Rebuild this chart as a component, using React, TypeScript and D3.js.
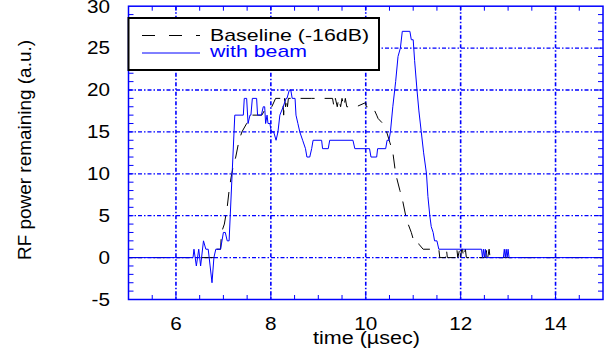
import React from "react";
import * as d3 from "d3";

const W = 604;
const H = 352;

// Baseline (-16dB) trace: time (µs) and value
const baseT = [5, 6.8, 6.81, 6.94, 6.96, 7.02, 7.08, 7.12, 7.16, 7.21, 7.26, 7.33, 7.39, 7.49, 7.59, 7.81, 7.91, 8.02, 8.1,
  8.25, 8.27, 8.29, 8.31, 8.33, 8.35, 8.37, 8.86, 9.14, 9.3, 9.33, 9.36, 9.4, 9.43, 9.47, 9.5, 9.54, 9.57, 9.6, 9.64, 9.66,
  9.8, 10.0, 10.01, 10.15, 10.23, 10.26, 10.36, 10.44, 10.51, 10.57, 10.63, 10.72, 10.77, 10.86, 10.96, 11.01, 11.1, 11.12,
  11.21, 11.54, 11.56, 11.68, 11.7, 11.72, 11.9, 11.92, 11.94, 11.98, 12.0, 12.02, 12.04, 12.06, 12.1, 12.12, 12.53, 12.55,
  12.57, 12.6, 12.62, 15];
const baseV = [0, 0, 1, 1, 3, 4, 6, 8, 9.5, 11, 12, 14, 15, 16, 17, 17, 18, 18, 19,
  19, 17, 19, 18, 19, 18, 19, 19, 19, 19, 18, 19, 18, 19, 18, 19, 18, 19, 18, 18, 18,
  18, 18.5, 18, 18, 17, 16.6, 16, 15, 13.7, 12.6, 10, 8, 7, 4.5, 3, 2, 2, 1.6,
  1, 1, 0, 0, 1, 0, 0, 1, 0, 1, 0, 1, 1, 0, 1, 0, 0, 1,
  0, 1, 0, 0];

// With beam trace: time (µs) and value
const beamT = [5, 6.36, 6.38, 6.43, 6.48, 6.52, 6.58, 6.63, 6.68, 6.72, 6.76, 6.8, 6.84, 6.94, 7.0, 7.04, 7.08, 7.12,
  7.24, 7.42, 7.44, 7.49, 7.52, 7.56, 7.58, 7.61, 7.7, 7.72, 7.8, 7.84, 7.87, 7.89, 7.92, 7.94, 7.98, 8.01, 8.06, 8.11,
  8.15, 8.19, 8.26, 8.32, 8.34, 8.39, 8.42, 8.45, 8.51, 8.53, 8.57, 8.61, 8.67, 8.73, 8.76, 8.82, 8.86, 8.89, 9.07, 9.09,
  9.21, 9.24, 9.73, 9.77, 10.08, 10.11, 10.23, 10.25, 10.42, 10.45, 10.49, 10.52, 10.57, 10.63, 10.68, 10.73, 10.77,
  10.93, 10.96, 11.0, 11.03, 11.08, 11.12, 11.17, 11.22, 11.28, 11.31, 11.35, 11.38, 11.42, 11.45, 11.5, 11.54, 12.44,
  12.46, 12.48, 12.5, 12.52, 12.54, 12.9, 12.92, 12.94, 12.96, 12.98, 13.0, 13.02, 15];
const beamV = [0, 0, 1, -1, 1, -1, 2, 1, 1, -1, -3, 0, 1, 1, 3, 3, 2, 2,
  17, 17, 19, 19, 16, 17, 17, 19, 19, 17, 17, 18, 18, 16, 17, 16, 16, 15, 15, 14,
  15, 17, 18, 19, 19, 20, 20, 19, 19, 17, 16, 15, 14, 13, 12, 12, 13, 14, 14, 13,
  13, 14, 14, 13, 13, 12, 12, 13, 13, 14, 14, 15, 18, 21, 24, 25, 27,
  27, 26, 26, 23.5, 20, 17.5, 15, 12.5, 10, 7.3, 5, 3.7, 3, 2, 2, 1, 1,
  0, 1, 0, 1, 0, 0, 1, 0, 1, 0, 1, 0, 0];

const xLabels = [6, 8, 10, 12, 14];
const yLabels = [-5, 0, 5, 10, 15, 20, 25, 30];
const xMinor = d3.range(5.5, 15, 0.5);
const yMinor = d3.range(-4, 30, 1);

const FONT = "Liberation Sans, Arial, Helvetica, sans-serif";
const BLUE = "#0000ff";

export default function App() {
  const left = 128.5, right = 603, top = 6.2, bottom = 299.5;
  const x = d3.scaleLinear().domain([5, 15]).range([left, right]);
  const y = d3.scaleLinear().domain([-5, 30]).range([bottom, top]);

  const line = d3.line<number>().x((d) => x(d[0])).y((d) => y(d[1]));
  const basePts = baseT.map((t, i) => [t, baseV[i]]);
  const beamPts = beamT.map((t, i) => [t, beamV[i]]);

  const gridDash = "4,2,1.5,2";

  return (
    <div style={{ position: "absolute", left: 0, top: 0 }}>
      <svg width={W} height={H} style={{ display: "block", background: "#fff" }}>
        <rect x={0} y={0} width={W} height={H} fill="#fff" />
        {/* gridlines */}
        {xLabels.map((v) => (
          <line key={"gx" + v} x1={x(v)} x2={x(v)} y1={top} y2={bottom} stroke={BLUE} strokeWidth={1.6} strokeDasharray={gridDash} />
        ))}
        {yLabels.filter((v) => v > -5 && v < 30).map((v) => (
          <line key={"gy" + v} x1={left} x2={right} y1={y(v)} y2={y(v)} stroke={BLUE} strokeWidth={1.3} strokeDasharray={gridDash} />
        ))}
        {/* minor ticks */}
        {xMinor.map((v) => (
          <g key={"tx" + v}>
            <line x1={x(v)} x2={x(v)} y1={bottom} y2={bottom - 4.5} stroke={BLUE} strokeWidth={1} />
            <line x1={x(v)} x2={x(v)} y1={top} y2={top + 4.5} stroke={BLUE} strokeWidth={1} />
          </g>
        ))}
        {yMinor.map((v) => (
          <g key={"ty" + v}>
            <line x1={left} x2={left + 5} y1={y(v)} y2={y(v)} stroke={BLUE} strokeWidth={1} />
            <line x1={right} x2={right - 5} y1={y(v)} y2={y(v)} stroke={BLUE} strokeWidth={1} />
          </g>
        ))}
        {/* data */}
        <path d={line(basePts as any) || ""} fill="none" stroke="#000" strokeWidth={1} strokeDasharray="14,10" />
        <path d={line(beamPts as any) || ""} fill="none" stroke={BLUE} strokeWidth={1} />
        {/* frame */}
        <rect x={left} y={top} width={right - left} height={bottom - top} fill="none" stroke={BLUE} strokeWidth={1.5} />
        {/* legend */}
        <rect x={left} y={18} width={379 - left} height={52} fill="#fff" stroke="#000" strokeWidth={2} />
        <line x1={142} x2={200} y1={35.5} y2={35.5} stroke="#000" strokeWidth={1} strokeDasharray="13,14" />
        <line x1={142} x2={200} y1={53} y2={53} stroke={BLUE} strokeWidth={1} />
        <text x={210} y={40.5} fontFamily={FONT} fontSize={17} fill="#000" textLength={159} lengthAdjust="spacingAndGlyphs">Baseline (-16dB)</text>
        <text x={210} y={57} fontFamily={FONT} fontSize={17} fill={BLUE} textLength={97} lengthAdjust="spacingAndGlyphs">with beam</text>
        {/* tick labels */}
        {xLabels.map((v) => (
          <g key={"lx" + v} transform={`translate(${x(v)},330) scale(1.15,1)`}>
            <text x={0} y={0} textAnchor="middle" fontFamily={FONT} fontSize={18} fill="#000">{v}</text>
          </g>
        ))}
        {yLabels.map((v) => (
          <g key={"ly" + v} transform={`translate(110,${y(v) + 6.3}) scale(1.15,1)`}>
            <text x={0} y={0} textAnchor="end" fontFamily={FONT} fontSize={18} fill="#000">{v}</text>
          </g>
        ))}
        {/* axis titles */}
        <text x={313} y={343.5} fontFamily={FONT} fontSize={17.5} fill="#000" textLength={107} lengthAdjust="spacingAndGlyphs">time (µsec)</text>
        <g transform="translate(31,150) rotate(-90)">
          <text x={0} y={0} textAnchor="middle" fontFamily={FONT} fontSize={18} fill="#000" textLength={220} lengthAdjust="spacingAndGlyphs">RF power remaining (a.u.)</text>
        </g>
      </svg>
    </div>
  );
}
